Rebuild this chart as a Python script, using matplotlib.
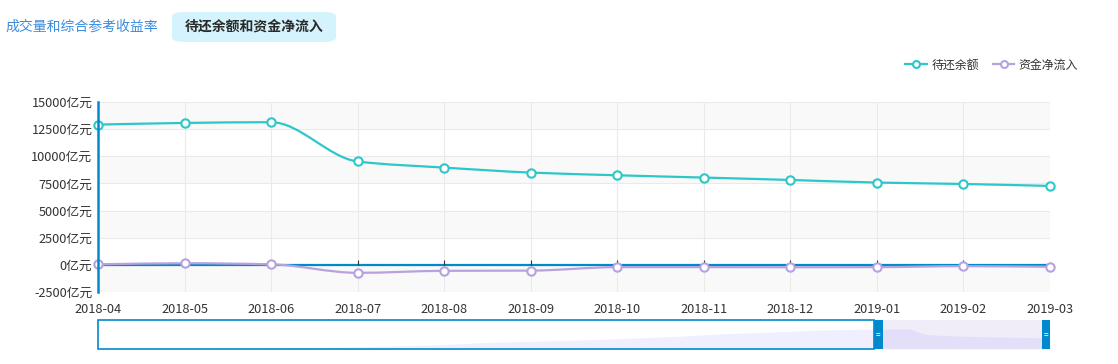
import numpy as np
import matplotlib
matplotlib.use('Agg')
import matplotlib.pyplot as plt
from matplotlib.path import Path
from matplotlib.patches import PathPatch, Rectangle, FancyBboxPatch
from matplotlib.lines import Line2D

plt.rcParams['font.family'] = ['Noto Sans CJK SC', 'DejaVu Sans']

months = ['2018-04', '2018-05', '2018-06', '2018-07', '2018-08', '2018-09',
          '2018-10', '2018-11', '2018-12', '2019-01', '2019-02', '2019-03']
balance = [12920, 13070, 13140, 9520, 8960, 8500, 8250, 8040, 7820, 7580, 7450, 7270]
netflow = [50, 150, 50, -735, -550, -530, -210, -210, -220, -210, -120, -180]
y_ticks = [-2500, 0, 2500, 5000, 7500, 10000, 12500, 15000]

# data zoom shadow: earlier history (month index from 2014-02), window starts at index 50
hist_index = [0, 7, 12, 17, 22, 25, 30, 33, 37, 40, 43, 46, 49]
hist_values = [0, 0, 700, 1500, 2800, 4400, 5600, 6600, 8200, 10000, 11000, 12400, 12900]
window_start = 50

CYAN = '#2ec7c9'
PURPLE = '#b6a2de'
AXBLUE = '#008acd'
TXT = '#333333'

W, H = 1118, 364
fig = plt.figure(figsize=(W / 100, H / 100), dpi=100)


def px_rect(x0, y0, x1, y1):
    return [x0 / W, 1 - y1 / H, (x1 - x0) / W, (y1 - y0) / H]


ax = fig.add_axes(px_rect(98, 102, 1050, 292))
x = np.arange(len(months))
ax.set_xlim(0, len(months) - 1)
ax.set_ylim(y_ticks[0], y_ticks[-1])

# alternating split areas
for i in range(len(y_ticks) - 1):
    ax.axhspan(y_ticks[i], y_ticks[i + 1], color='#f9f9f9' if i % 2 == 0 else 'white', lw=0, zorder=0)

for v in y_ticks:
    ax.axhline(v, color='#eaeaea', lw=0.8, zorder=1)
for xi in x:
    ax.axvline(xi, color='#eaeaea', lw=0.8, zorder=1)

ax.set_yticks(y_ticks)
ax.set_yticklabels([f'{v}亿元' for v in y_ticks])
ax.set_xticks(x)
ax.set_xticklabels(months)
ax.tick_params(axis='both', length=0, labelsize=9.2, labelcolor=TXT)
ax.tick_params(axis='y', pad=4)
ax.tick_params(axis='x', pad=8)
for s in ['top', 'right', 'bottom']:
    ax.spines[s].set_visible(False)
ax.spines['left'].set_color(AXBLUE)
ax.spines['left'].set_linewidth(1.8)
ax.spines['left'].set_zorder(6)

# x axis line at zero with small tick marks
ax.axhline(0, color=AXBLUE, lw=1.6, zorder=3)
ax.vlines(x[1:], 0, 430, colors='#333333', lw=0.8, zorder=3)


def smooth_line(ax, xs, ys, color):
    # monotone cubic (no overshoot), drawn as bezier segments
    xs = np.asarray(xs, float)
    ys = np.asarray(ys, float)
    h = np.diff(xs)
    d = np.diff(ys) / h
    m = np.zeros(len(xs))
    m[0], m[-1] = d[0], d[-1]
    for i in range(1, len(xs) - 1):
        if d[i - 1] * d[i] > 0:
            m[i] = 2 / (1 / d[i - 1] + 1 / d[i])
    verts = [(xs[0], ys[0])]
    codes = [Path.MOVETO]
    for i in range(len(xs) - 1):
        verts += [(xs[i] + h[i] / 3, ys[i] + m[i] * h[i] / 3),
                  (xs[i + 1] - h[i] / 3, ys[i + 1] - m[i + 1] * h[i] / 3),
                  (xs[i + 1], ys[i + 1])]
        codes += [Path.CURVE4] * 3
    ax.add_patch(PathPatch(Path(verts, codes), fill=False, edgecolor=color, lw=1.6, zorder=4))


smooth_line(ax, x, balance, CYAN)
smooth_line(ax, x, netflow, PURPLE)
ax.plot(x, balance, 'o', ls='none', mfc='white', mec=CYAN, ms=6, mew=1.5, zorder=5, clip_on=False)
ax.plot(x, netflow, 'o', ls='none', mfc='white', mec=PURPLE, ms=6, mew=1.5, zorder=5, clip_on=False)

# legend
handles = [Line2D([], [], color=CYAN, lw=1.6, marker='o', mfc='white', mec=CYAN, ms=5, mew=1.5),
           Line2D([], [], color=PURPLE, lw=1.6, marker='o', mfc='white', mec=PURPLE, ms=5, mew=1.5)]
fig.legend(handles, ['待还余额', '资金净流入'], loc='center right',
           bbox_to_anchor=(1078 / W, 1 - 65 / H), ncol=2, frameon=False,
           fontsize=8.6, handlelength=1.8, handletextpad=0.35, columnspacing=1.2,
           borderpad=0, borderaxespad=0, labelcolor=TXT)

# tabs
fig.text(5 / W, 1 - 27 / H, '成交量和综合参考收益率', color='#3c8de0', fontsize=10, va='center', ha='left')
tab = FancyBboxPatch((172 / W, 1 - 42 / H), 164 / W, 30 / H,
                     boxstyle='round,pad=0,rounding_size=0.012', transform=fig.transFigure,
                     facecolor='#d4f3fc', edgecolor='none')
fig.patches.append(tab)
fig.text(254 / W, 1 - 27 / H, '待还余额和资金净流入', color='#2a2a2a', fontsize=10,
         fontweight='bold', va='center', ha='center')

# data zoom slider
sl = fig.add_axes(px_rect(98, 320, 1050, 349))
sx = hist_index + [window_start + i for i in range(len(months))]
sy = hist_values + balance
n_total = sx[-1]
sl.set_xlim(0, n_total)
sl.set_ylim(0, 19000)
sl.axis('off')
sl.fill_between(sx, 0, sy, color='#efefff', lw=0, zorder=1)
sl.axvspan(window_start, n_total, color=(182 / 255, 162 / 255, 220 / 255, 0.2), lw=0, zorder=2)
sl.add_patch(Rectangle((0, 0), window_start - 0.27, 19000, fill=False, edgecolor=AXBLUE, lw=1.2, zorder=3,
                       clip_on=False))
hw = 0.27
for hx in [window_start, n_total - hw]:
    sl.add_patch(Rectangle((hx - hw, 0), 2 * hw, 19000, facecolor=AXBLUE, edgecolor='none', zorder=4,
                           clip_on=False))
    sl.text(hx, 9500, '=', color='white', fontsize=6, ha='center', va='center', zorder=5)

fig.savefig('out.png', dpi=100)
